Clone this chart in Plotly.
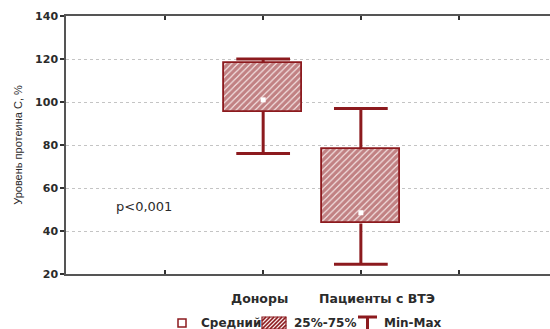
import plotly.graph_objects as go

# Protein C level (%) per group: box = quartiles, whiskers = min/max, dot = mean
groups = ["Доноры", "Пациенты с ВТЭ"]
group_pos = [2, 3]
q25 = [95.5, 43.5]
q75 = [118.0, 78.0]
mins = [76.0, 24.5]
maxs = [120.0, 97.0]
means = [101.0, 48.5]

y_ticks = [20, 40, 60, 80, 100, 120, 140]
x_ticks = [1, 2, 3, 4]
label_shift = [-4, 16]  # horizontal nudge of the group captions, px

RED = "#8c1a1e"
PINK = "#f6e8e8"
AXIS = "#555555"
TXT = "#2b2b2b"
BOX_W = 0.8
CAP_HALF = 0.275

fig = go.Figure()

# whiskers (outside the box) with caps
wx, wy = [], []
for p, lo, hi, a, b in zip(group_pos, q25, q75, mins, maxs):
    wx += [p, p, None, p, p, None, p - CAP_HALF, p + CAP_HALF, None, p - CAP_HALF, p + CAP_HALF, None]
    wy += [hi, b, None, lo, a, None, b, b, None, a, a, None]
fig.add_trace(go.Scatter(x=wx, y=wy, mode="lines", line=dict(color=RED, width=3),
                         hoverinfo="skip", showlegend=False))

# 25%-75% boxes
fig.add_trace(go.Bar(
    x=group_pos, base=q25, y=[h - l for h, l in zip(q75, q25)], width=BOX_W,
    marker=dict(color=PINK, line=dict(color=RED, width=1.8),
                pattern=dict(shape="/", size=4.5, solidity=0.75, fgcolor=RED, bgcolor=PINK)),
    showlegend=False))

# means
fig.add_trace(go.Scatter(x=group_pos, y=means, mode="markers",
                         marker=dict(symbol="square", size=5, color="white", line=dict(width=0)),
                         showlegend=False))

fig.add_annotation(x=0.78, y=51.5, xref="x", yref="y", text="p<0,001", showarrow=False,
                   font=dict(family="DejaVu Sans", size=13, color=TXT))

# ---- legend drawn below the plot (pixel-sized icons anchored in paper coords)
PLOT_L, PLOT_W, PLOT_B, PLOT_H = 66, 484, 274, 258


def px(x):
    return (x - PLOT_L) / PLOT_W


def py(y):
    return (PLOT_B - y) / PLOT_H


# group captions under the axis
cap_font = dict(family="DejaVu Sans", size=12.5, color=TXT, weight="bold")
for g, p, s in zip(groups, group_pos, label_shift):
    fig.add_annotation(x=p, y=py(298), xref="x", yref="paper", text=g, showarrow=False,
                       xshift=s, yanchor="middle", font=cap_font)

LEG_Y = py(323)
common = dict(xref="paper", yref="paper", xsizemode="pixel", ysizemode="pixel", yanchor=LEG_Y)

# mean symbol
fig.add_shape(type="rect", xanchor=px(182), x0=-4, x1=4, y0=-4, y1=4,
              line=dict(color=RED, width=1.5), fillcolor="white", **common)

# hatched box symbol
hw, hh, step = 24, 12, 4
segs = []
c = -hh
while c <= hw:
    y0, y1 = max(0, -c), min(hh, hw - c)
    if y1 > y0:
        segs.append(f"M{y0 + c - hw / 2},{y0 - hh / 2} L{y1 + c - hw / 2},{y1 - hh / 2}")
    c += step
fig.add_shape(type="rect", xanchor=px(274), x0=-hw / 2, x1=hw / 2, y0=-hh / 2, y1=hh / 2,
              line=dict(width=0), fillcolor=PINK, **common)
fig.add_shape(type="path", xanchor=px(274), path=" ".join(segs),
              line=dict(color=RED, width=1.6), **common)
fig.add_shape(type="rect", xanchor=px(274), x0=-hw / 2, x1=hw / 2, y0=-hh / 2, y1=hh / 2,
              line=dict(color=RED, width=1.2), **common)

# min-max symbol
fig.add_shape(type="path", xanchor=px(367.5), path="M-9.5,6 L9.5,6 M0,6 L0,-6",
              line=dict(color=RED, width=3), **common)

leg_font = dict(family="DejaVu Sans", size=12, color=TXT, weight="bold")
for label, left in [("Средний", 199), ("25%-75%", 292), ("Min-Max", 382)]:
    fig.add_annotation(x=px(left), y=LEG_Y, xref="paper", yref="paper", text=label,
                       showarrow=False, xanchor="left", yanchor="middle", font=leg_font)

fig.update_layout(
    width=550, height=329,
    margin=dict(l=66, r=0, t=16, b=55),
    paper_bgcolor="white", plot_bgcolor="white",
    barmode="overlay", bargap=0,
    showlegend=False,
    xaxis=dict(range=[-0.018, 4.936], tickmode="array", tickvals=x_ticks,
               showticklabels=False,
               ticks="inside", ticklen=4, tickwidth=1.5, tickcolor="#333",
               showline=True, linecolor=AXIS, linewidth=1.5, mirror="ticks",
               showgrid=False, zeroline=False),
    yaxis=dict(range=[20, 140], tickmode="array", tickvals=y_ticks,
               ticks="outside", ticklen=4, tickwidth=1.5, tickcolor="#333",
               showline=True, linecolor=AXIS, linewidth=1.5, mirror=False,
               showgrid=True, gridcolor="#c4c4c4", griddash="dot", gridwidth=1,
               zeroline=False,
               tickfont=dict(family="DejaVu Sans", size=11, color=TXT, weight="bold"),
               title=dict(text="Уровень протеина С, %", standoff=10,
                          font=dict(family="Liberation Sans", size=11, color=TXT))),
)

fig.write_html("out.html")
